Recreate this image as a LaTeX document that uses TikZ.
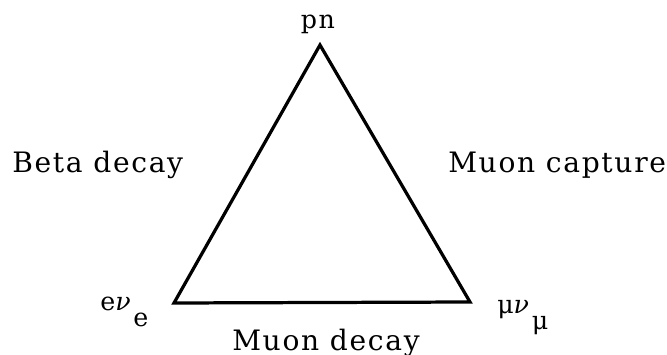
\documentclass[tikz,border=0pt]{standalone}
\usepackage{fontspec}
\setmainfont{DejaVu Serif}[LetterSpace=6]
\usetikzlibrary{positioning}

\newcommand{\lowsub}[1]{\hspace{2pt}\raisebox{-0.42cm}{#1}}

\begin{document}
\begin{tikzpicture}[x=0.025cm, y=-0.025cm,
        side/.style={line width=2.3pt, line join=miter, line cap=round},
        proclabel/.style={font=\fontsize{20}{24}\selectfont, inner sep=0pt, anchor=base west},
        vertexlabel/.style={font=\fontsize{18}{21}\selectfont, inner sep=0pt, anchor=base west}
    ]
        \useasboundingbox (0,0) rectangle (667,355);

        % corners of the triangle
        \coordinate (top) at (320,45);
        \coordinate (left) at (174,303);
        \coordinate (right) at (470,302);

        \draw[side] (top) -- (left) -- (right) -- cycle;

        \node[vertexlabel, anchor=base] (pn) at (318,28) {pn};
        \node[vertexlabel] (enu) at (100,310) {e{\itshape ν}\lowsub{e}};
        \node[vertexlabel] (munu) at (497,313) {μ{\itshape ν}\lowsub{μ}};

        \node[proclabel] (beta) at (12,172) {Beta decay};
        \node[proclabel] (capture) at (448,172) {Muon capture};
        \node[proclabel] (mudecay) at (232,350) {Muon decay};
    \end{tikzpicture}
\end{document}
